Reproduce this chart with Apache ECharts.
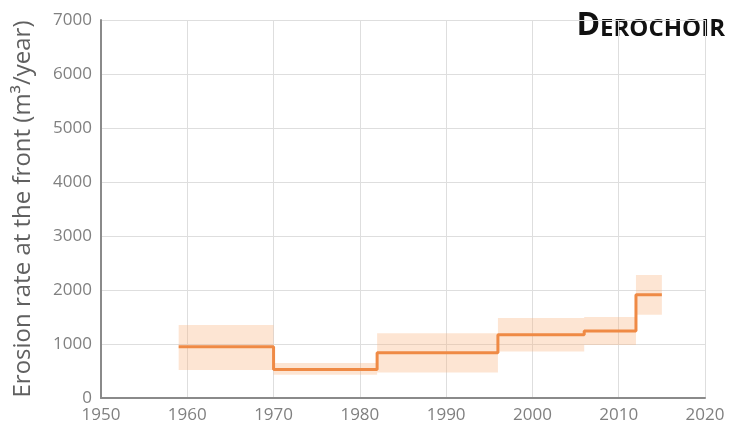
<!DOCTYPE html>
<html>
<head>
<meta charset="utf-8">
<script src="https://cdn.jsdelivr.net/npm/echarts@6/dist/echarts.min.js"></script>
<style>
  html, body { margin: 0; padding: 0; background: #fff; }
  #chart { width: 731px; height: 434px; }
</style>
</head>
<body>
<div id="chart"></div>
<script>
// period boundaries (years) and erosion rate per period (m3/year)
const periodStart = [1959, 1970, 1982, 1996, 2006, 2012]
const periodEnd = [1970, 1982, 1996, 2006, 2012, 2015]
const rate = [950, 530, 840, 1170, 1240, 1910]
const rateLow = [520, 430, 470, 860, 980, 1540]
const rateHigh = [1350, 650, 1200, 1480, 1500, 2280]

const xTicks = [1950, 1960, 1970, 1980, 1990, 2000, 2010, 2020]
const yTicks = [0, 1000, 2000, 3000, 4000, 5000, 6000, 7000]

const chart = echarts.init(document.getElementById('chart'))

// step line: value held from each start to the next boundary
const stepData = periodStart.map((s, i) => [s, rate[i]])
stepData.push([periodEnd[periodEnd.length - 1], rate[rate.length - 1]])

const bandData = periodStart.map((s, i) => [s, periodEnd[i], rateLow[i], rateHigh[i]])

const labelFont = '"Open Sans", sans-serif'

const option = {
  animation: false,
  grid: { left: 101, right: 26, top: 20, bottom: 36 },
  xAxis: {
    type: 'value',
    min: xTicks[0],
    max: xTicks[xTicks.length - 1],
    interval: 10,
    axisLine: { show: true, lineStyle: { color: '#8a8a8a', width: 2 } },
    axisTick: { show: false },
    axisLabel: { color: '#808080', fontSize: 17, fontFamily: labelFont, margin: 9, formatter: v => String(v) },
    splitLine: { show: true, lineStyle: { color: '#dedede', width: 1 } }
  },
  yAxis: {
    type: 'value',
    min: yTicks[0],
    max: yTicks[yTicks.length - 1],
    interval: 1000,
    name: 'Erosion rate at the front (m³/year)',
    nameLocation: 'middle',
    nameGap: 66,
    nameTextStyle: { color: '#606060', fontSize: 24, fontFamily: labelFont },
    axisLine: { show: true, lineStyle: { color: '#8a8a8a', width: 2 } },
    axisTick: { show: false },
    axisLabel: { color: '#808080', fontSize: 17, fontFamily: labelFont, margin: 9, formatter: v => String(v) },
    splitLine: { show: true, lineStyle: { color: '#dedede', width: 1 } }
  },
  graphic: [
    {
      type: 'text',
      right: 6,
      top: 10,
      style: {
        text: '{a|D}{b|EROCHOIR}',
        rich: {
          a: { fontSize: 32, fontWeight: 'bold', fill: '#111', fontFamily: labelFont, lineHeight: 32, verticalAlign: 'bottom' },
          b: { fontSize: 24, fontWeight: 'bold', fill: '#111', fontFamily: labelFont, lineHeight: 32, verticalAlign: 'bottom', padding: [0, 0, 1, 0] }
        }
      }
    }
  ],
  series: [
    {
      type: 'custom',
      renderItem: (params, api) => {
        const p0 = api.coord([api.value(0), api.value(3)])
        const p1 = api.coord([api.value(1), api.value(2)])
        return {
          type: 'rect',
          shape: { x: p0[0], y: p0[1], width: p1[0] - p0[0], height: p1[1] - p0[1] },
          style: { fill: 'rgba(250, 180, 130, 0.35)' }
        }
      },
      encode: { x: [0, 1], y: [2, 3] },
      data: bandData,
      z: 1
    },
    {
      type: 'line',
      step: 'end',
      data: stepData,
      symbol: 'none',
      lineStyle: { color: '#ef8a45', width: 3 },
      z: 3
    }
  ]
}

chart.setOption(option)
</script>
</body>
</html>
